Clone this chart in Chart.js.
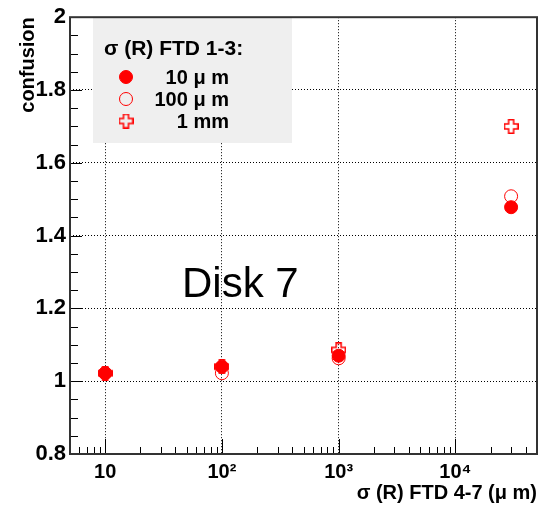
<!DOCTYPE html>
<html>
<head>
<meta charset="utf-8">
<script src="https://cdn.jsdelivr.net/npm/chart.js@4.4.0/dist/chart.umd.min.js"></script>
<style>
  html, body { margin: 0; padding: 0; background: #fff; }
  #wrap { width: 545px; height: 505px; }
</style>
</head>
<body>
<div id="wrap"><canvas id="grafico" width="545" height="505"></canvas></div>
<script>
// valores
const sigmaX = [10, 100, 1000, 30000];
const conf10um = [1.022, 1.04, 1.07, 1.478];
const conf100um = [1.022, 1.022, 1.063, 1.508];
const conf1mm = [1.022, 1.04, 1.086, 1.70];
const serieLabels = ['10 \u03bc m', '100 \u03bc m', '1 mm'];
const xTicks = [10, 100, 1000, 10000];
const xTickLabels = ['10', '10\u00b2', '10\u00b3', '10\u2074'];
const yTicks = [0.8, 1, 1.2, 1.4, 1.6, 1.8, 2];
const yTickLabels = ['0.8', '1', '1.2', '1.4', '1.6', '1.8', '2'];

const VERMELHO = '#ff0000';
const FONTE = '"Liberation Sans", Arial, sans-serif';

// marcador "cruz aberta" estilo ROOT
function cruzAberta(tam, cor) {
  const c = document.createElement('canvas');
  c.width = tam; c.height = tam;
  const g = c.getContext('2d');
  const a = tam / 3, e = 0.75, m = tam - e;
  g.beginPath();
  g.moveTo(a, e); g.lineTo(2 * a, e); g.lineTo(2 * a, a); g.lineTo(m, a);
  g.lineTo(m, 2 * a); g.lineTo(2 * a, 2 * a); g.lineTo(2 * a, m); g.lineTo(a, m);
  g.lineTo(a, 2 * a); g.lineTo(e, 2 * a); g.lineTo(e, a); g.lineTo(a, a);
  g.closePath();
  g.lineWidth = 1.5;
  g.strokeStyle = cor;
  g.stroke();
  return c;
}
const imgCruz = cruzAberta(15, VERMELHO);

function pontos(ys) {
  return sigmaX.map((x, i) => ({ x: x, y: ys[i] }));
}

// moldura, ticks menores, texto "Disk 7" e legenda
const decoracao = {
  id: 'decoracao',
  beforeDatasetsDraw(chart) {
    const ctx = chart.ctx;
    const a = chart.chartArea;
    const sx = chart.scales.x, sy = chart.scales.y;
    ctx.save();
    ctx.strokeStyle = '#000';
    ctx.lineWidth = 1;
    // ticks em x (log)
    ctx.beginPath();
    for (let d = 1; d <= 10000; d *= 10) {
      for (let k = 1; k <= 9; k++) {
        const v = d * k;
        if (v < sx.min || v > sx.max) continue;
        const px = Math.round(sx.getPixelForValue(v)) + 0.5;
        const len = k === 1 ? 15 : 7;
        ctx.moveTo(px, a.bottom);
        ctx.lineTo(px, a.bottom - len);
      }
    }
    // ticks em y
    for (let i = 0; i <= 24; i++) {
      const v = 0.8 + i * 0.05;
      const py = Math.round(sy.getPixelForValue(v)) + 0.5;
      const len = i % 4 === 0 ? 12 : 8;
      ctx.moveTo(a.left, py);
      ctx.lineTo(a.left + len, py);
    }
    ctx.stroke();

    // legenda
    const bx = 93, by = 18, bw = 199, bh = 125;
    ctx.fillStyle = '#efefef';
    ctx.fillRect(bx, by, bw, bh);
    ctx.fillStyle = '#000';
    ctx.font = 'bold 21px ' + FONTE;
    ctx.textAlign = 'left';
    ctx.textBaseline = 'alphabetic';
    ctx.fillText('\u03c3 (R) FTD 1-3:', 104, 55);
    ctx.font = 'bold 20px ' + FONTE;
    ctx.textAlign = 'right';
    chart.data.datasets.forEach((ds, i) => {
      const y = 77 + i * 22;
      const x = 126;
      if (ds.pointStyle === 'circle') {
        ctx.beginPath();
        ctx.arc(x, y, 6.5, 0, Math.PI * 2);
        ctx.fillStyle = ds.backgroundColor;
        ctx.fill();
        ctx.strokeStyle = ds.borderColor;
        ctx.lineWidth = 1;
        ctx.stroke();
      } else {
        ctx.drawImage(ds.pointStyle, x - 7.5, y - 7.5);
      }
      ctx.fillStyle = '#000';
      ctx.fillText(ds.label, 229, y + 7);
    });

    // texto "Disk 7"
    ctx.font = '42px ' + FONTE;
    ctx.textAlign = 'left';
    ctx.fillText('Disk 7', 182, 297);
    ctx.restore();
  },
  afterDraw(chart) {
    const ctx = chart.ctx;
    const a = chart.chartArea;
    ctx.save();
    ctx.strokeStyle = '#333';
    ctx.lineWidth = 2;
    ctx.strokeRect(a.left, a.top, a.right - a.left, a.bottom - a.top);
    ctx.restore();
  }
};

const ctx = document.getElementById('grafico').getContext('2d');
new Chart(ctx, {
  type: 'scatter',
  data: {
    datasets: [{
      label: serieLabels[0],
      data: pontos(conf10um),
      pointStyle: 'circle',
      pointRadius: 6.5,
      backgroundColor: VERMELHO,
      borderColor: VERMELHO,
      borderWidth: 1
    }, {
      label: serieLabels[1],
      data: pontos(conf100um),
      pointStyle: 'circle',
      pointRadius: 6.5,
      backgroundColor: 'rgba(0,0,0,0)',
      borderColor: VERMELHO,
      borderWidth: 1
    }, {
      label: serieLabels[2],
      data: pontos(conf1mm),
      pointStyle: imgCruz,
      pointRadius: 7,
      backgroundColor: VERMELHO,
      borderColor: VERMELHO
    }]
  },
  options: {
    responsive: false,
    animation: false,
    devicePixelRatio: 1,
    layout: { padding: { left: 0, right: 8, top: 9, bottom: 0 } },
    plugins: {
      legend: { display: false },
      tooltip: { enabled: false }
    },
    scales: {
      x: {
        type: 'logarithmic',
        min: 5,
        max: 50000,
        afterBuildTicks: (s) => { s.ticks = xTicks.map(v => ({ value: v })); },
        afterFit: (s) => { s.height = 51; },
        ticks: {
          autoSkip: false,
          maxRotation: 0,
          padding: 6,
          color: '#000',
          font: { family: FONTE, weight: 'bold', size: 20 },
          callback: (v) => xTickLabels[xTicks.indexOf(v)]
        },
        grid: { color: '#000', drawTicks: false, lineWidth: 1 },
        border: { display: false, dash: [1, 2] },
        title: {
          display: true,
          text: '\u03c3 (R) FTD 4-7 (\u03bc m)',
          align: 'end',
          color: '#000',
          padding: { top: 0, bottom: 0 },
          font: { family: FONTE, weight: 'bold', size: 20 }
        }
      },
      y: {
        min: 0.8,
        max: 2,
        afterBuildTicks: (s) => { s.ticks = yTicks.map(v => ({ value: v })); },
        afterFit: (s) => { s.width = 70; },
        ticks: {
          autoSkip: false,
          padding: 4,
          color: '#000',
          font: { family: FONTE, weight: 'bold', size: 22 },
          callback: (v) => yTickLabels[yTicks.indexOf(v)]
        },
        grid: { color: '#000', drawTicks: false, lineWidth: 1 },
        border: { display: false, dash: [1, 2] },
        title: {
          display: true,
          text: 'confusion',
          align: 'end',
          color: '#000',
          padding: { top: 16, bottom: 0 },
          font: { family: FONTE, weight: 'bold', size: 20 }
        }
      }
    }
  },
  plugins: [decoracao]
});
</script>
</body>
</html>
